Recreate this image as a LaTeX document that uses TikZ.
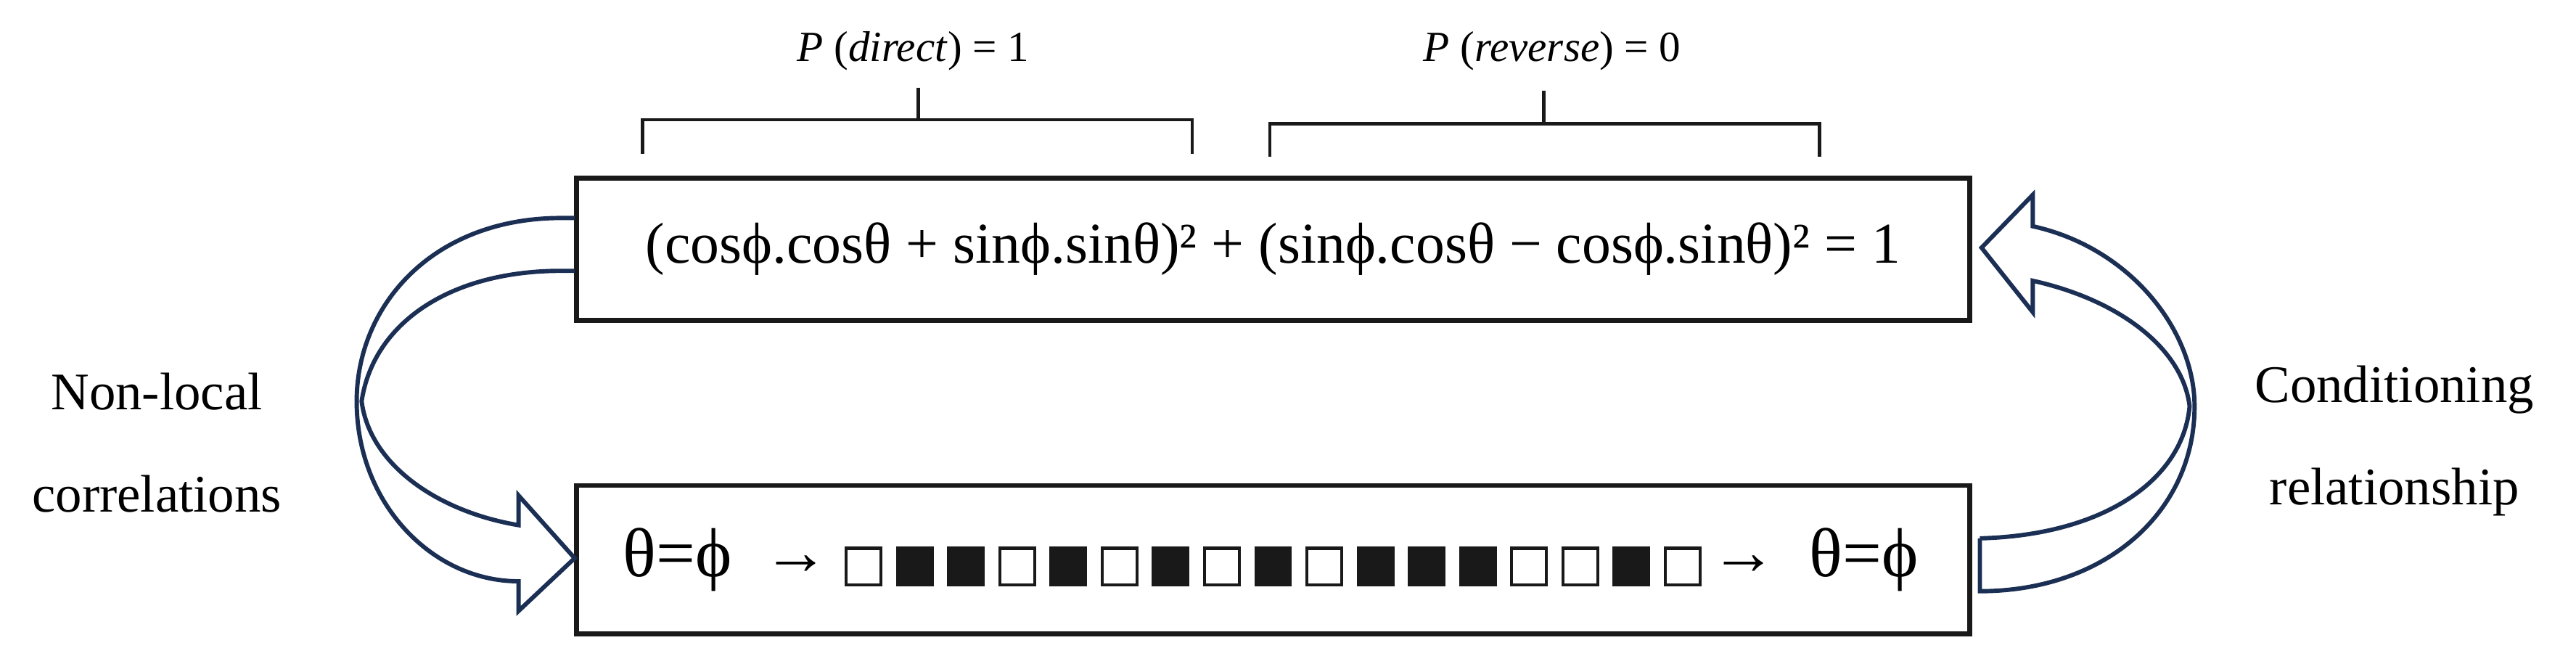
\documentclass[tikz,border=0pt]{standalone}
\usepackage{fontspec}
\setmainfont{Liberation Serif}
\definecolor{navy}{HTML}{1B2F54}
\begin{document}
\begin{tikzpicture}[x=0.5pt,y=-0.5pt,
  box/.style={draw=black!90,line width=1.5pt},
  fat/.style={draw=navy,line width=1.3pt,line join=miter},
  brk/.style={draw=black!90,line width=1pt},
  wsq/.style={draw=black!90,line width=0.9pt,fill=white,minimum width=10.5pt,minimum height=11pt,inner sep=0pt},
  bsq/.style={wsq,fill=black!90},
  lbl/.style={font=\fontsize{16}{16}\selectfont,align=center}]
\useasboundingbox (0,0) rectangle (1560,402);
\draw[box] (349,108) rectangle (1193,194);
\draw[box] (349,294) rectangle (1193,384);
\node (eq) at (771,151) {\fontsize{17.5}{18}\selectfont (cosϕ.cosθ + sinϕ.sinθ)² + (sinϕ.cosθ − cosϕ.sinθ)² = 1};
% brackets
\draw[brk] (389,93) -- (389,72.5) -- (722,72.5) -- (722,93);
\draw[brk] (556,72.5) -- (556,53);
\draw[brk] (769,95) -- (769,75) -- (1102,75) -- (1102,95);
\draw[brk] (935,75) -- (935,55);
\node (pd) at (553,31) {\fontsize{13}{14}\selectfont\textit{P} (\textit{direct}) = 1};
\node (pr) at (940,31) {\fontsize{13}{14}\selectfont\textit{P} (\textit{reverse}) = 0};
% bottom row
\node[anchor=west,inner sep=0pt] (l1) at (377,339) {\fontsize{21}{21}\selectfont θ=ϕ};
\node[anchor=center,inner sep=0pt] (a1) at (482,342) {\fontsize{20}{20}\selectfont →};
\foreach \c [count=\i] in {0,1,1,0,1,0,1,0,1,0,1,1,1,0,0,1,0}{
  \ifnum\c=1 \node[bsq] (s\i) at ({492+31*\i},343) {};
  \else \node[wsq] (s\i) at ({492+31*\i},343) {}; \fi
}
\node[anchor=center,inner sep=0pt] (a2) at (1056,342) {\fontsize{20}{20}\selectfont →};
\node[anchor=east,inner sep=0pt] (l2) at (1162,339) {\fontsize{21}{21}\selectfont θ=ϕ};
% side labels
\node[lbl] (nl) at (95,237) {Non-local};
\node[lbl] (nc) at (95,299) {correlations};
\node[lbl] (cr) at (1450,236) {Conditioning};
\node[lbl] (cr2) at (1450,298) {relationship};
% left fat arrow
\draw[fat] (348,132) -- (340,132) .. controls (262,132) and (216,185) .. (216,243)
  .. controls (216,305) and (262,352) .. (314,352) -- (314,370) -- (348,338) -- (314,300) -- (314,318)
  .. controls (266,310) and (224,282) .. (219,243) .. controls (226,196) and (272,164) .. (340,164) -- (348,164);
% right fat arrow
\draw[fat] (1199,326) -- (1199,358) .. controls (1275,358) and (1329,310) .. (1329,246)
  .. controls (1329,200) and (1290,150) .. (1231,137) -- (1231,118) -- (1200,150) -- (1231,189) -- (1231,170)
  .. controls (1285,182) and (1322,212) .. (1326,246) .. controls (1322,290) and (1275,324) .. (1199,326);
\end{tikzpicture}
\end{document}
